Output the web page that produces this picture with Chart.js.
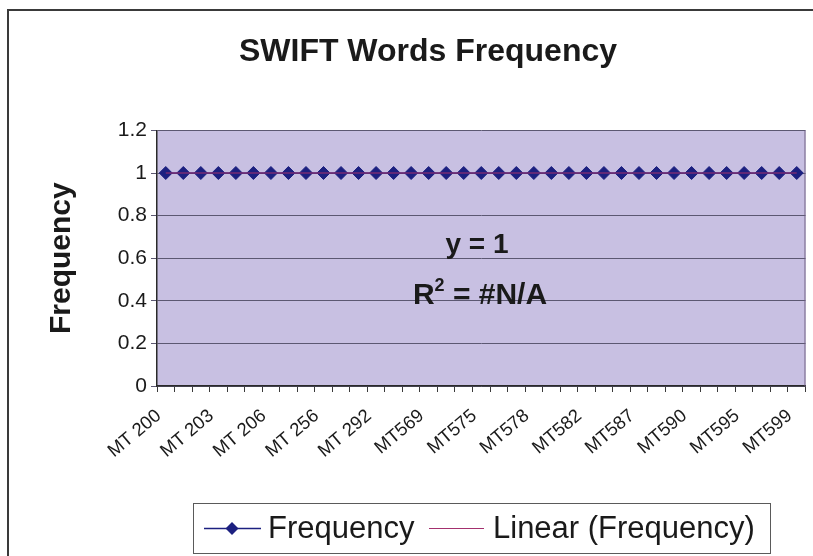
<!DOCTYPE html>
<html>
<head>
<meta charset="utf-8">
<script src="https://cdn.jsdelivr.net/npm/chart.js@4.4.0/dist/chart.umd.min.js"></script>
<style>
  html, body { margin: 0; padding: 0; background: #ffffff; }
  #wrap { width: 813px; height: 556px; position: relative; }
</style>
</head>
<body>
<div id="wrap"><canvas id="c" width="813" height="556"></canvas></div>
<script>
// SWIFT message types on the category axis
const messageTypes = [
  'MT 200', 'MT 201', 'MT 202', 'MT 203', 'MT 204', 'MT 205', 'MT 206', 'MT 207', 'MT 210',
  'MT 256', 'MT 290', 'MT 291', 'MT 292', 'MT 295', 'MT 296', 'MT569', 'MT571', 'MT574',
  'MT575', 'MT576', 'MT577', 'MT578', 'MT580', 'MT581', 'MT582', 'MT584', 'MT586',
  'MT587', 'MT588', 'MT589', 'MT590', 'MT591', 'MT592', 'MT595', 'MT596', 'MT598', 'MT599'
];

// word frequency per message type
const frequency = [
  1, 1, 1, 1, 1, 1, 1, 1, 1,
  1, 1, 1, 1, 1, 1, 1, 1, 1,
  1, 1, 1, 1, 1, 1, 1, 1, 1,
  1, 1, 1, 1, 1, 1, 1, 1, 1, 1
];

// linear trendline: y = slope * x + intercept
const trendSlope = 0;
const trendIntercept = 1;
const trendRSquared = '#N/A';

// value axis
const yMin = 0;
const yMax = 1.2;
const yStep = 0.2;

const FONT = "'Liberation Sans', Arial, Helvetica, sans-serif";
Chart.defaults.font.family = FONT;

const NAVY = '#1c2080';
const TREND = '#a3306e';
const PLOT_BG = '#c8c0e2';

const trendValues = messageTypes.map((_, i) => trendSlope * (i + 1) + trendIntercept);

function equationText() {
  return trendSlope === 0 ? 'y = ' + trendIntercept : 'y = ' + trendSlope + 'x + ' + trendIntercept;
}

// page frame and plot-area fill
const backdrop = {
  id: 'backdrop',
  beforeDraw(chart) {
    const ctx = chart.ctx;
    const a = chart.chartArea;
    ctx.save();
    ctx.fillStyle = '#ffffff';
    ctx.fillRect(0, 0, chart.width, chart.height);
    ctx.strokeStyle = '#3a3a3a';
    ctx.lineWidth = 2;
    ctx.beginPath();
    ctx.moveTo(8, chart.height + 2);
    ctx.lineTo(8, 10);
    ctx.lineTo(chart.width + 2, 10);
    ctx.stroke();
    ctx.fillStyle = PLOT_BG;
    ctx.fillRect(a.left, a.top, a.right - a.left, a.bottom - a.top);
    ctx.restore();
  },
  afterDraw(chart) {
    const ctx = chart.ctx;
    const a = chart.chartArea;
    ctx.save();
    ctx.strokeStyle = '#6e5f82';
    ctx.lineWidth = 1;
    ctx.beginPath();
    ctx.moveTo(a.right - 0.5, a.top);
    ctx.lineTo(a.right - 0.5, a.bottom);
    ctx.stroke();
    ctx.restore();
  }
};

// trendline equation and R-squared inside the plot
const trendLabel = {
  id: 'trendLabel',
  afterDraw(chart) {
    const ctx = chart.ctx;
    ctx.save();
    ctx.fillStyle = '#1a1a1a';
    ctx.textBaseline = 'alphabetic';
    ctx.font = 'bold 28px ' + FONT;
    ctx.textAlign = 'center';
    ctx.fillText(equationText(), 477, 253);

    const big = 'bold 30px ' + FONT;
    const small = 'bold 18px ' + FONT;
    ctx.font = big;
    const wR = ctx.measureText('R').width;
    const rest = ' = ' + trendRSquared;
    const wRest = ctx.measureText(rest).width;
    ctx.font = small;
    const w2 = ctx.measureText('2').width;
    const total = wR + w2 + wRest;
    let x = 480 - total / 2;
    const base = 304;
    ctx.textAlign = 'left';
    ctx.font = big;
    ctx.fillText('R', x, base);
    x += wR;
    ctx.font = small;
    ctx.fillText('2', x, base - 13);
    x += w2;
    ctx.font = big;
    ctx.fillText(rest, x, base);
    ctx.restore();
  }
};

// boxed legend under the category axis
const boxedLegend = {
  id: 'boxedLegend',
  afterDraw(chart) {
    const ctx = chart.ctx;
    const ds = chart.data.datasets;
    const box = { x: 193.5, y: 503.5, w: 577, h: 50 };
    const cy = box.y + box.h / 2;
    ctx.save();
    ctx.strokeStyle = '#5a5a5a';
    ctx.lineWidth = 1;
    ctx.strokeRect(box.x, box.y, box.w, box.h);

    ctx.font = '31px ' + FONT;
    ctx.fillStyle = '#1a1a1a';
    ctx.textBaseline = 'middle';
    ctx.textAlign = 'left';

    // first entry: line with diamond marker
    ctx.strokeStyle = ds[0].borderColor;
    ctx.lineWidth = 1.5;
    ctx.beginPath();
    ctx.moveTo(204, cy);
    ctx.lineTo(261, cy);
    ctx.stroke();
    ctx.fillStyle = ds[0].pointBackgroundColor;
    ctx.beginPath();
    ctx.moveTo(232, cy - 6.5);
    ctx.lineTo(238.5, cy);
    ctx.lineTo(232, cy + 6.5);
    ctx.lineTo(225.5, cy);
    ctx.closePath();
    ctx.fill();
    ctx.fillStyle = '#1a1a1a';
    ctx.fillText(ds[0].label, 268, cy + 1);

    // second entry: plain trendline
    ctx.strokeStyle = ds[1].borderColor;
    ctx.lineWidth = 1.2;
    ctx.beginPath();
    ctx.moveTo(429, cy);
    ctx.lineTo(484, cy);
    ctx.stroke();
    ctx.fillText(ds[1].label, 493, cy + 1);
    ctx.restore();
  }
};

new Chart(document.getElementById('c'), {
  type: 'line',
  data: {
    labels: messageTypes,
    datasets: [
      {
        label: 'Frequency',
        data: frequency,
        borderColor: NAVY,
        borderWidth: 1.5,
        pointStyle: 'rectRot',
        pointRadius: 6.5,
        pointBackgroundColor: NAVY,
        pointBorderColor: NAVY,
        pointBorderWidth: 1,
        order: 1
      },
      {
        label: 'Linear (Frequency)',
        data: trendValues,
        borderColor: TREND,
        borderWidth: 1.2,
        pointRadius: 0,
        order: 0
      }
    ]
  },
  options: {
    responsive: false,
    animation: false,
    devicePixelRatio: 1,
    layout: { padding: { left: 40, right: -3, top: 0, bottom: 0 } },
    plugins: {
      legend: { display: false },
      tooltip: { enabled: false },
      title: {
        display: true,
        text: 'SWIFT Words Frequency',
        color: '#1a1a1a',
        font: { size: 32, weight: 'bold' },
        padding: { top: 33, bottom: 59 }
      }
    },
    scales: {
      x: {
        offset: true,
        grid: { offset: true, drawOnChartArea: false, drawTicks: true, tickLength: 6, color: '#3a3a3a' },
        border: { color: '#2a2a2a', width: 1.5 },
        ticks: {
          autoSkip: false,
          minRotation: 40,
          maxRotation: 40,
          color: '#1a1a1a',
          font: { size: 18.5 },
          padding: 13,
          labelOffset: -7,
          callback(value, index) {
            return index % 3 === 0 ? this.getLabelForValue(value) : '';
          }
        },
        afterFit(scale) {
          scale.height = 170;
          scale.paddingRight = 0;
          scale.paddingLeft = 0;
        }
      },
      y: {
        min: yMin,
        max: yMax,
        grid: { color: '#5c5872', lineWidth: 1, drawTicks: true, tickLength: 6 },
        border: { color: '#2a2a2a', width: 1.5 },
        ticks: {
          stepSize: yStep,
          color: '#1a1a1a',
          font: { size: 21 },
          padding: 4,
          callback(value) { return String(Math.round(value * 10) / 10); }
        },
        title: {
          display: true,
          text: 'Frequency',
          color: '#1a1a1a',
          font: { size: 30, weight: 'bold' },
          padding: { top: 4, bottom: 4 }
        },
        afterFit(scale) { scale.width = 117; }
      }
    }
  },
  plugins: [backdrop, trendLabel, boxedLegend]
});
</script>
</body>
</html>
